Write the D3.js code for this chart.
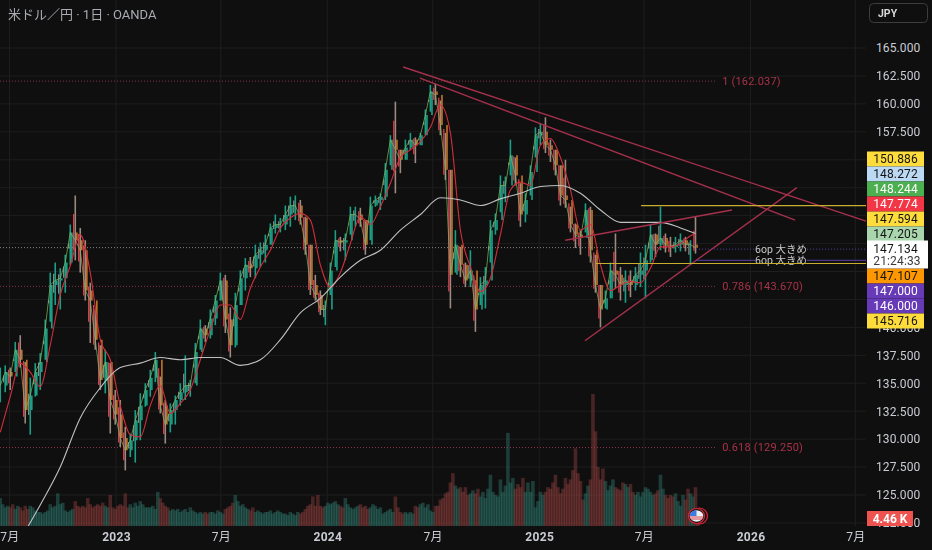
<!DOCTYPE html>
<html>
<head>
<meta charset="utf-8">
<script src="https://cdn.jsdelivr.net/npm/d3@7"></script>
<style>
  html, body { margin: 0; background: #0f0f0f; overflow: hidden; }
  text { font-family: Roboto, "Noto Sans CJK JP", sans-serif; }
</style>
</head>
<body>
<div id="chart"></div>
<script>
const firstBar = new Date(2022, 5, 15);
const stepDays = 8.64;

const highs = [
  136.4,136.6,136.4,138.7,139.3,136.9,135.5,136.8,137.7,140.7,144.9,145.8,145.3,146.5,149.2,151.8,148.9,147.8,144.0,141.6,
  138.4,138.0,136.8,134.4,133.5,131.1,130.5,132.6,134.1,135.0,136.2,137.8,135.6,133.5,133.2,133.9,135.0,137.5,135.3,138.6,
  140.7,140.2,141.6,142.9,144.9,144.7,141.8,143.1,145.1,146.2,146.3,147.4,147.6,148.3,149.3,150.1,149.8,150.9,151.7,151.8,
  151.4,149.9,147.4,144.7,143.3,142.4,145.8,148.7,148.1,148.4,150.8,150.8,150.7,149.6,151.7,151.8,152.0,154.7,157.2,160.2,
  155.9,156.8,157.4,157.0,157.4,159.5,161.7,161.8,160.3,157.4,154.1,148.7,147.2,145.8,146.9,144.2,144.5,145.4,149.6,150.2,
  153.6,153.5,156.8,155.2,152.9,152.0,154.5,157.9,158.3,158.8,156.8,155.9,154.5,155.0,150.8,149.3,148.7,151.1,150.8,146.5,
  143.8,143.3,145.8,148.4,145.4,145.1,145.1,145.4,146.7,147.4,149.2,148.4,150.8,148.4,148.1,148.1,148.4,148.1,147.8,149.9
];
const lows = [
  133.3,134.2,134.4,136.0,136.4,131.4,130.4,133.8,134.4,137.1,140.5,142.0,141.6,143.1,145.6,146.0,144.9,142.4,138.6,138.0,
  134.4,134.1,130.5,131.3,129.3,127.2,128.4,127.9,129.9,132.9,133.8,135.1,132.3,129.6,130.6,131.3,133.0,133.5,133.8,135.0,
  138.0,138.7,139.0,140.2,142.4,139.5,137.3,138.2,142.0,143.3,144.5,144.4,145.4,145.8,147.4,148.4,148.5,148.7,149.0,149.6,
  149.2,146.5,142.9,142.4,141.1,140.2,142.9,145.4,146.8,146.0,148.3,149.0,149.0,146.5,147.8,150.8,150.5,151.4,154.5,152.0,
  153.8,155.0,155.9,154.7,156.3,157.2,159.3,159.9,157.2,153.2,141.7,144.9,144.5,143.6,143.6,139.6,142.0,141.7,145.8,148.3,
  150.3,151.2,153.6,152.7,149.0,149.4,151.8,155.2,156.3,155.6,154.8,153.6,150.9,150.7,148.5,147.1,146.5,148.5,145.8,143.1,
  140.0,141.7,142.6,143.5,142.4,142.2,142.7,143.3,143.6,142.6,145.8,146.3,146.9,146.7,146.3,146.7,146.8,146.8,145.6,146.6
];
const closes = [
  134.8,136.0,135.6,138.0,137.1,132.6,133.9,136.0,136.9,139.9,143.8,144.2,144.4,145.8,148.5,147.8,146.9,143.3,142.4,138.9,
  135.3,136.9,133.5,132.2,130.1,129.0,129.9,131.7,133.0,134.4,135.5,137.1,133.0,131.3,132.6,133.5,134.2,134.8,134.8,137.8,
  139.9,139.3,140.8,142.4,144.2,140.7,138.4,142.0,144.4,145.6,145.3,146.5,146.9,147.4,148.9,149.2,149.2,150.1,150.9,150.9,
  149.8,147.4,143.8,142.9,141.6,141.6,145.1,147.8,147.6,147.8,150.1,150.1,149.6,147.4,150.9,151.4,151.7,154.1,156.8,155.9,
  155.0,156.1,156.8,156.3,157.2,159.0,161.1,160.8,158.1,154.1,144.7,147.4,145.6,144.2,145.1,141.6,143.8,144.2,148.7,149.6,
  152.7,152.7,155.4,153.6,150.1,151.4,153.9,157.2,157.5,156.3,155.9,154.5,151.8,151.4,149.2,148.3,148.0,150.5,146.9,143.8,
  141.6,142.6,145.1,144.7,143.8,144.2,143.8,144.7,145.1,146.0,148.3,147.4,148.0,147.4,147.2,147.4,147.8,147.4,147.4,147.13
];

// short red average, one value every second bar, plus the last bar
const redAverage = [
  130.6,133.8,136.8,136.0,134.7,138.4,142.9,145.5,148.3,144.9,138.9,137.1,133.0,130.4,130.2,133.0,134.8,132.3,133.2,134.4,
  137.1,139.8,142.0,142.0,140.7,143.5,145.4,146.9,148.9,149.8,150.2,149.6,145.6,143.6,144.9,147.5,149.9,149.2,150.8,152.9,
  155.2,155.9,156.6,157.9,159.9,157.4,148.7,145.4,143.2,144.4,148.3,152.3,153.0,152.7,156.3,156.9,155.2,152.3,148.7,149.2,
  145.6,143.3,143.8,144.1,144.0,145.3,147.2,147.2,147.5,148.2,148.4
];
// long white average, one value every fourth bar from bar 4, plus the last bar
const whiteAverage = [
  121.0,124.1,127.5,131.9,134.6,136.4,136.8,137.3,137.1,137.3,137.3,136.6,137.1,138.9,141.3,142.6,144.5,146.0,146.9,148.7,
  150.1,151.6,151.4,150.9,151.5,152.0,152.6,152.7,152.0,150.5,149.4,149.4,149.4,148.9,148.4
];

// volume in thousands, two values per price bar
const volumes = [
  18,14,12,13,12,14,11,13,12,10, 13,11,13,12,10,9,9,8,9,10, 14,12,13,21,14,15,10,9,10,11, 16,13,12,13,12,18,14,12,13,14,
  13,15,13,12,20,12,11,13,14,13, 21,12,14,12,15,13,16,14,12,12, 12,13,11,22,18,15,13,12,10,11, 10,11,9,10,11,9,12,10,9,8,
  9,8,9,8,9,9,8,10,9,8, 11,12,13,15,20,16,13,14,12,11, 10,12,9,10,9,8,9,9,10,8, 9,10,9,8,8,7,9,8,7,9,
  8,9,11,13,14,19,13,20,13,12, 13,15,14,15,16,14,13,12,18,14, 12,11,12,13,14,12,13,11,12,14, 13,11,12,8,9,10,11,9,19,12,
  9,8,9,8,9,8,13,12,14,15, 12,14,10,9,13,13,17,18,21,22, 28,34,26,24,25,22,25,20,21,23, 21,24,19,22,18,24,33,22,20,19,
  30,22,26,60,28,31,24,27,25,31, 22,28,22,29,12,16,22,20,22,25, 24,28,33,25,21,24,31,27,30,36, 50,34,29,17,21,26,30,85,61,38,
  30,37,29,23,26,30,25,24,23,28, 27,25,27,22,20,22,19,22,25,24, 22,20,21,23,33,24,20,18,20,19, 21,16,13,20,17,24,21,19,25,4.46
];

const priceTicks = [165,162.5,160,157.5,155,152.5,150,147.5,145,142.5,140,137.5,135,132.5,130,127.5,125,122.5];
// these sit fully behind the stacked price tags
const hiddenTicks = [155,152.5,150,147.5,145,142.5];
const timeTicks = ["2022-07-01","2023-01-01","2023-07-01","2024-01-01","2024-07-01","2025-01-01","2025-07-01","2026-01-01","2026-07-01"];

const fibPrices = [162.037, 143.670, 129.250];
const fibNames = ["1 (162.037)", "0.786 (143.670)", "0.618 (129.250)"];
const fibEnd = "2025-11-01";

const trendStart = ["2024-05-11","2024-06-09","2025-02-15","2025-03-21"];
const trendStartPrice = [163.3,162.3,147.8,138.8];
const trendEnd = ["2026-07-26","2026-03-19","2025-11-30","2026-03-22"];
const trendEndPrice = [149.4,149.6,150.5,152.5];

const yellowPrices = [150.886, 145.716];
const yellowStart = ["2025-06-26","2025-04-09"];

const orderPrices = [147, 146];
const orderStart = "2025-09-29";
const orderName = "6op 大きめ";

const lastPrice = 147.134;
const countdown = "21:24:33";
const upperTags = ["150.886","148.272","148.244","147.774","147.594","147.205"];
const upperFills = ["#fddc3c","#bbd9f2","#4caf50","#f23645","#fddc3c","#a9d6ac"];
const upperInk = ["#131313","#131313","#fff","#fff","#131313","#131313"];
const lowerTags = ["147.107","147.000","146.000","145.716"];
const lowerFills = ["#ff9800","#673ab7","#673ab7","#fddc3c"];
const lowerInk = ["#131313","#fff","#fff","#131313"];

const width = 932, height = 550;
const plotW = 866, plotB = 526;

const x = d3.scaleTime()
  .domain([new Date(2022, 6, 1), new Date(2026, 6, 1)])
  .range([9.5, 855.3]);
const y = d3.scaleLinear().domain([165, 125]).range([48, 495]);
const vol = d3.scaleLinear().domain([0, 85]).range([plotB, plotB - 132]);

const barDate = i => d3.timeHour.offset(firstBar, i * stepDays * 24);
const barX = i => x(barDate(i));
const day = s => d3.timeParse("%Y-%m-%d")(s);
const dir = i => i == 0 ? 1 : Math.sign(closes[i] - closes[i - 1]);

const svg = d3.select("#chart").append("svg")
  .attr("width", width)
  .attr("height", height)
  .style("display", "block");

const defs = svg.append("defs");
defs.append("clipPath").attr("id", "plot")
  .append("rect").attr("width", plotW).attr("height", plotB);
defs.append("filter").attr("id", "soft")
  .append("feGaussianBlur").attr("stdDeviation", 0.4);

const plot = svg.append("g").attr("clip-path", "url(#plot)");

// grid
plot.append("g").selectAll("line").data(priceTicks).join("line")
  .attr("x1", 0).attr("x2", plotW)
  .attr("y1", d => y(d)).attr("y2", d => y(d))
  .attr("stroke", "#1e1e1e");
plot.append("g").selectAll("line").data(timeTicks).join("line")
  .attr("x1", d => x(day(d))).attr("x2", d => x(day(d)))
  .attr("y1", 0).attr("y2", plotB)
  .attr("stroke", "#1e1e1e");

// volume
plot.append("g").attr("filter", "url(#soft)")
  .selectAll("rect").data(volumes).join("rect")
  .attr("x", (d, i) => barX(i / 2) - 1.8)
  .attr("width", 3.6)
  .attr("y", d => vol(d))
  .attr("height", d => plotB - vol(d))
  .attr("fill", (d, i) => dir(Math.floor(i / 2)) >= 0 ? "#2f7f72" : "#9c4240")
  .attr("opacity", 0.42);

// fib levels
plot.append("g").selectAll("line").data(fibPrices).join("line")
  .attr("x1", 0).attr("x2", x(day(fibEnd)))
  .attr("y1", d => y(d)).attr("y2", d => y(d))
  .attr("stroke", "#8c3345")
  .attr("stroke-dasharray", "1 2");
plot.append("g").selectAll("text").data(fibPrices).join("text")
  .attr("x", x(day(fibEnd)) + 7)
  .attr("y", d => y(d))
  .attr("dy", "0.35em")
  .attr("font-size", 11)
  .attr("letter-spacing", 0.2)
  .attr("fill", "#a83247")
  .text((d, i) => fibNames[i]);

// last price dotted line
plot.append("line")
  .attr("x1", 0).attr("x2", barX(closes.length - 1))
  .attr("y1", y(lastPrice)).attr("y2", y(lastPrice))
  .attr("stroke", "#8a8a8a")
  .attr("stroke-dasharray", "1 2");

// bars: range, body strips either side, then the closes as a thin ribbon
const bars = plot.append("g").attr("filter", "url(#soft)");
bars.selectAll(".wick").data(closes).join("line")
  .attr("class", "wick")
  .attr("x1", (d, i) => barX(i)).attr("x2", (d, i) => barX(i))
  .attr("y1", (d, i) => y(highs[i])).attr("y2", (d, i) => y(lows[i]))
  .attr("stroke", (d, i) => dir(i) >= 0 ? "#1b9f88" : "#9a8a80")
  .attr("stroke-width", 1.6);
bars.selectAll(".left").data(closes).join("line")
  .attr("class", "left")
  .attr("x1", (d, i) => barX(i) - 1.6).attr("x2", (d, i) => barX(i) - 1.6)
  .attr("y1", (d, i) => y(highs[i] * 0.5 + (i ? closes[i - 1] : d) * 0.5))
  .attr("y2", (d, i) => y(lows[i] * 0.5 + d * 0.5))
  .attr("stroke", (d, i) => dir(i) >= 0 ? "#86908a" : "#e8404e")
  .attr("stroke-width", 1.2);
bars.selectAll(".right").data(closes).join("line")
  .attr("class", "right")
  .attr("x1", (d, i) => barX(i) + 1.6).attr("x2", (d, i) => barX(i) + 1.6)
  .attr("y1", (d, i) => y(i ? closes[i - 1] : d)).attr("y2", d => y(d))
  .attr("stroke", (d, i) => dir(i) >= 0 ? "#1fb697" : "#e0842c")
  .attr("stroke-width", 1.4);
bars.append("path")
  .attr("d", d3.line().x((d, i) => barX(i)).y(d => y(d))(closes))
  .attr("fill", "none").attr("stroke", "#7dbb5e").attr("stroke-width", 0.9).attr("opacity", 0.8);

// averages
const redBars = d3.range(0, 140, 2).concat(139);
const whiteBars = d3.range(4, 140, 4).concat(139);
plot.append("path")
  .attr("d", d3.line().x((d, i) => barX(redBars[i])).y(d => y(d)).curve(d3.curveMonotoneX)(redAverage))
  .attr("fill", "none").attr("stroke", "#d22f3c").attr("stroke-width", 1.1);
plot.append("path")
  .attr("d", d3.line().x((d, i) => barX(whiteBars[i])).y(d => y(d)).curve(d3.curveMonotoneX)(whiteAverage))
  .attr("fill", "none").attr("stroke", "#bfc1c3").attr("stroke-width", 1.1);

// drawn trend lines
plot.append("g").selectAll("line").data(trendStart).join("line")
  .attr("x1", d => x(day(d)))
  .attr("y1", (d, i) => y(trendStartPrice[i]))
  .attr("x2", (d, i) => x(day(trendEnd[i])))
  .attr("y2", (d, i) => y(trendEndPrice[i]))
  .attr("stroke", "#a5304c")
  .attr("stroke-width", 1.4);

// order lines with their captions
const orders = plot.append("g");
orders.selectAll("line").data(orderPrices).join("line")
  .attr("x1", x(day(orderStart))).attr("x2", plotW)
  .attr("y1", d => y(d)).attr("y2", d => y(d))
  .attr("stroke", "#5b3ea6")
  .attr("stroke-dasharray", (d, i) => i == 0 ? "1 2" : null);
orders.selectAll("rect").data(orderPrices).join("rect")
  .attr("x", 755).attr("width", 52)
  .attr("y", d => y(d) - 2).attr("height", 4)
  .attr("fill", "#0f0f0f");
orders.selectAll("text").data(orderPrices).join("text")
  .attr("x", 781)
  .attr("y", d => y(d))
  .attr("dy", "0.35em")
  .attr("text-anchor", "middle")
  .attr("font-size", 10.5)
  .attr("fill", "#c8c8c8")
  .text(orderName);

plot.append("g").selectAll("line").data(yellowPrices).join("line")
  .attr("x1", (d, i) => x(day(yellowStart[i]))).attr("x2", plotW)
  .attr("y1", d => y(d)).attr("y2", d => y(d))
  .attr("stroke", "#c7ae2e")
  .attr("stroke-width", 1.2);

// event flag
const flag = plot.append("g").attr("transform", `translate(${barX(139) + 1},516)`);
flag.append("ellipse").attr("cx", 3).attr("rx", 8).attr("ry", 8).attr("fill", "#111").attr("stroke", "#d8263a").attr("stroke-width", 1.2);
flag.append("ellipse").attr("rx", 8).attr("ry", 7.5).attr("fill", "#111").attr("stroke", "#d8263a").attr("stroke-width", 1.2);
flag.append("ellipse").attr("rx", 6.8).attr("ry", 5.8).attr("fill", "#f0f0f0");
flag.append("path").attr("d", "M-6.8 0 A6.8 5.8 0 0 1 0 -5.8 L0 0 Z").attr("fill", "#3d7be0");
flag.append("path").attr("d", "M-5.6 3 H5.6 M-6.4 1 H6.4").attr("stroke", "#d8414f").attr("stroke-width", 1);

// axes
const yAxis = svg.append("g")
  .attr("transform", `translate(${plotW},0)`)
  .call(d3.axisRight(y).tickValues(priceTicks.filter(p => !hiddenTicks.includes(p)))
    .tickFormat(d3.format(".3f")).tickSize(0).tickPadding(10));
yAxis.select(".domain").remove();
yAxis.selectAll("text").attr("font-size", 12).attr("letter-spacing", 0.1).attr("fill", "#c9ccd3").style("font-family", "Roboto");

const xAxis = svg.append("g")
  .attr("transform", `translate(0,${plotB})`)
  .call(d3.axisBottom(x).tickValues(timeTicks.map(day)).tickSize(0).tickPadding(6)
    .tickFormat(d => d.getMonth() == 0 ? d3.timeFormat("%Y")(d) : "7月"));
xAxis.select(".domain").remove();
xAxis.selectAll("text")
  .attr("font-size", 12)
  .attr("font-weight", d => d.getMonth() == 0 ? 700 : 400)
  .attr("letter-spacing", 0.3)
  .attr("fill", "#c9ccd3")
  .style("font-family", "Roboto, 'Noto Sans CJK JP'");

// price tags stacked on the axis
const tags = svg.append("g").attr("font-size", 12).attr("letter-spacing", 0.15);
function addTags(list, fills, ink, top) {
  list.forEach((t, i) => {
    tags.append("rect").attr("x", 867).attr("y", top + i * 15).attr("width", 57).attr("height", 15).attr("fill", fills[i]);
    tags.append("text").attr("x", 895.5).attr("y", top + i * 15 + 7.5).attr("dy", "0.35em")
      .attr("text-anchor", "middle").attr("fill", ink[i]).text(t);
  });
}
addTags(upperTags, upperFills, upperInk, 151.5);
addTags(lowerTags, lowerFills, lowerInk, 268.5);
tags.append("rect").attr("x", 867).attr("y", 240.5).attr("width", 61).attr("height", 28).attr("fill", "#ffffff");
tags.append("text").attr("x", 895.5).attr("y", 249).attr("dy", "0.35em").attr("text-anchor", "middle").attr("fill", "#131313").text(d3.format(".3f")(lastPrice));
tags.append("text").attr("x", 897).attr("y", 261).attr("dy", "0.35em").attr("text-anchor", "middle").attr("fill", "#3a3a3a").text(countdown);

// current volume tag
svg.append("rect").attr("x", 867).attr("y", 511).attr("width", 46).attr("height", 15).attr("fill", "#ef5350");
svg.append("text").attr("x", 890).attr("y", 518.5).attr("dy", "0.35em").attr("text-anchor", "middle")
  .attr("font-size", 12).attr("font-weight", 700).attr("fill", "#fff").text("4.46 K");

// currency button and title
svg.append("rect").attr("x", 869.5).attr("y", 3.5).attr("width", 58).attr("height", 19).attr("rx", 4)
  .attr("fill", "#0f0f0f").attr("stroke", "#3d3d3d");
svg.append("text").attr("x", 878).attr("y", 13).attr("dy", "0.35em")
  .attr("font-size", 10.5).attr("font-weight", 700).attr("fill", "#d8d8d8").text("JPY");
svg.append("text").attr("x", 8).attr("y", 14.5).attr("dy", "0.35em")
  .attr("font-size", 13).attr("fill", "#a9abb2").text("米ドル／円 · 1日 · OANDA");
</script>
</body>
</html>
